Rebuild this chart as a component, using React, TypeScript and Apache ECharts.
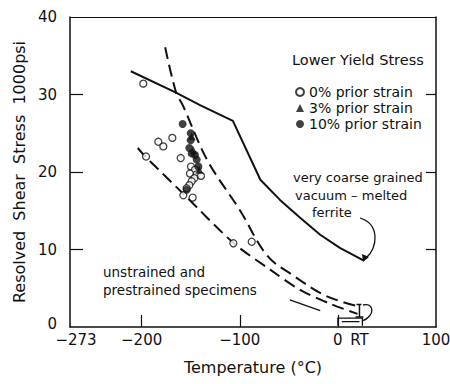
import React, { useEffect, useRef } from "react";
import * as echarts from "echarts";

// Temperature (°C), resolved shear stress (1000 psi)
const coarseFerrite: [number, number][] = [
  [-211, 33.0], [-166, 30.3], [-140, 28.6], [-107, 26.6], [-79, 19.0],
  [-59, 16.4], [-38.5, 14.1], [-18, 11.9], [2, 10.2], [26, 8.6],
];
const prestrainedCurve: [number, number][] = [
  [-176, 36.1], [-165, 30.3], [-158, 28.6], [-133, 21.5], [-100, 15.1],
  [-72, 9.2], [-45, 6.6], [-12, 4.0], [20, 2.7],
];
const unstrainedCurve: [number, number][] = [
  [-204, 23.1], [-195.5, 21.9], [-156, 17.0], [-106, 10.8], [-69, 7.4],
  [-38.5, 4.8], [-8, 3.0], [20, 1.7],
];
const leaderSegment: [number, number][] = [[-49, 3.5], [-18, 2.1]];
const strain0: [number, number][] = [
  [-198.3, 31.4], [-195.5, 22.0], [-183, 23.9], [-177.9, 23.3], [-168.7, 24.4],
  [-160.2, 21.8], [-149.7, 20.7], [-145.6, 20.3], [-150.7, 19.8], [-143.9, 19.7],
  [-139.5, 19.5], [-146.3, 19.2], [-149, 18.8], [-151.4, 18.3], [-154.1, 17.9],
  [-148, 16.7], [-157.5, 17.0], [-106.5, 10.8], [-87.8, 11.0],
];
const strain3: [number, number][] = [
  [-149, 24.6], [-147.3, 22.8], [-141.2, 20.3],
];
const strain10: [number, number][] = [
  [-158.2, 26.2], [-150, 25.0], [-150, 24.1], [-151.4, 23.1], [-145.6, 22.2],
  [-149, 22.4], [-143.9, 21.6], [-142.2, 20.7], [-154.1, 17.7],
];
// room-temperature scatter band: bracket and box
const rtBracket: [number, number][] = [
  [19, 2.9], [24, 2.9], [22, 2.9], [22, 1.3], [18, 1.3], [26, 1.3],
];
const rtBox: [number, number][] = [
  [0, 0.15], [0, 1.15], [25, 1.15], [25, 0.15],
];
const rtBoxInner: [number, number][] = [[4, 0.7], [22, 0.7]];

const xLabelValues = [-273, -200, -100, 0, 22, 100];
const xTickValues = [-200, -100, 0];
const yTickValues = [10, 20, 30];

const FONT = "DejaVu Sans";

export default function App() {
  const ref = useRef<HTMLDivElement>(null);
  useEffect(() => {
    const chart = echarts.init(ref.current!, null, { renderer: "svg" });
    const lineBase = {
      type: "line",
      showSymbol: false,
      symbol: "none",
      silent: true,
      xAxisIndex: 0,
      yAxisIndex: 0,
    };
    chart.setOption({
      animation: false,
      textStyle: { fontFamily: FONT, color: "#111" },
      grid: { left: 70, right: 14, top: 17, bottom: 57, outerBoundsMode: "none" },
      legend: {
        orient: "vertical",
        left: 290,
        top: 80,
        itemGap: 2,
        itemWidth: 8,
        itemHeight: 8,
        selectedMode: false,
        data: ["0% prior strain", "3% prior strain", "10% prior strain"],
        textStyle: { fontFamily: FONT, fontSize: 14, color: "#111" },
      },
      xAxis: [
        {
          type: "value",
          min: -273,
          max: 100,
          position: "bottom",
          splitLine: { show: false },
          axisLine: { onZero: false, lineStyle: { color: "#111", width: 1.5 } },
          axisTick: {
            inside: true,
            length: 12,
            customValues: xTickValues,
            lineStyle: { color: "#111", width: 1.2 },
          },
          axisLabel: {
            customValues: xLabelValues,
            fontSize: 15,
            margin: 5,
            color: "#111",
            fontFamily: FONT,
            formatter: (v: number) =>
              v === 22 ? "RT" : v === -273 ? "{s|−273}" : v < 0 ? "−" + Math.abs(v) : String(v),
            rich: { s: { fontSize: 15, fontFamily: FONT, padding: [0, 0, 0, 12] } },
          },
          name: "Temperature (°C)",
          nameLocation: "middle",
          nameGap: 32,
          nameTextStyle: { fontSize: 16, fontFamily: FONT, color: "#111" },
        },
        {
          type: "value",
          min: -273,
          max: 100,
          position: "top",
          splitLine: { show: false },
          axisLine: { onZero: false, lineStyle: { color: "#111", width: 1.2 } },
          axisTick: { show: false },
          axisLabel: { show: false },
        },
      ],
      yAxis: [
        {
          type: "value",
          min: 0,
          max: 40,
          interval: 10,
          position: "left",
          splitLine: { show: false },
          axisLine: { onZero: false, lineStyle: { color: "#111", width: 1.5 } },
          axisTick: {
            inside: true,
            length: 13,
            customValues: yTickValues,
            lineStyle: { color: "#111", width: 1.2 },
          },
          axisLabel: {
            fontSize: 15,
            margin: 13,
            color: "#111",
            fontFamily: FONT,
            formatter: (v: number) => (v === 0 ? "{z|0}" : String(v)),
            rich: { z: { fontSize: 15, fontFamily: FONT, padding: [0, 0, 7, 0] } },
          },
          name: "Resolved  Shear  Stress  1000psi",
          nameLocation: "middle",
          nameGap: 42,
          nameTextStyle: { fontSize: 16, fontFamily: FONT, color: "#111" },
        },
        {
          type: "value",
          min: 0,
          max: 40,
          interval: 10,
          position: "right",
          splitLine: { show: false },
          axisLine: { onZero: false, lineStyle: { color: "#111", width: 1.5 } },
          axisTick: {
            inside: true,
            length: 10,
            customValues: yTickValues,
            lineStyle: { color: "#111", width: 1.2 },
          },
          axisLabel: { show: false },
        },
      ],
      series: [
        {
          ...lineBase,
          name: "coarse",
          data: coarseFerrite,
          smooth: false,
          lineStyle: { color: "#111", width: 2 },
        },
        {
          ...lineBase,
          name: "prestrained",
          data: prestrainedCurve,
          smooth: 0.35,
          lineStyle: { color: "#111", width: 2, type: [12, 6] },
        },
        {
          ...lineBase,
          name: "unstrained",
          data: unstrainedCurve,
          smooth: 0.3,
          lineStyle: { color: "#111", width: 2, type: [12, 6] },
        },
        {
          ...lineBase,
          name: "leader",
          data: leaderSegment,
          lineStyle: { color: "#111", width: 1.3 },
        },
        {
          ...lineBase,
          name: "rtBracket",
          data: rtBracket,
          lineStyle: { color: "#111", width: 1.5 },
        },
        {
          ...lineBase,
          name: "rtBox",
          data: rtBox,
          lineStyle: { color: "#111", width: 1.3 },
        },
        {
          ...lineBase,
          name: "rtBoxInner",
          data: rtBoxInner,
          lineStyle: { color: "#111", width: 1.3 },
        },
        {
          type: "scatter",
          name: "0% prior strain",
          data: strain0,
          symbol: "circle",
          symbolSize: 7,
          itemStyle: { color: "#fff", borderColor: "#111", borderWidth: 1.3 },
          z: 3,
        },
        {
          type: "scatter",
          name: "3% prior strain",
          data: strain3,
          symbol: "triangle",
          symbolSize: 8,
          itemStyle: { color: "#111" },
          z: 4,
        },
        {
          type: "scatter",
          name: "10% prior strain",
          data: strain10,
          symbol: "circle",
          symbolSize: 8,
          itemStyle: { color: "#111" },
          z: 4,
        },
      ],
      graphic: [
        {
          type: "text",
          left: 292,
          top: 52,
          style: { text: "Lower Yield Stress", fontSize: 14.5, fontFamily: FONT, fill: "#111" },
        },
        {
          type: "text",
          left: 293,
          top: 171,
          style: { text: "very coarse grained", fontSize: 13, fontFamily: FONT, fill: "#111" },
        },
        {
          type: "text",
          left: 295,
          top: 189,
          style: { text: "vacuum – melted", fontSize: 13, fontFamily: FONT, fill: "#111" },
        },
        {
          type: "text",
          left: 312,
          top: 206,
          style: { text: "ferrite", fontSize: 13, fontFamily: FONT, fill: "#111" },
        },
        {
          type: "text",
          left: 103,
          top: 265,
          style: { text: "unstrained and", fontSize: 13.5, fontFamily: FONT, fill: "#111" },
        },
        {
          type: "text",
          left: 103,
          top: 283,
          style: { text: "prestrained specimens", fontSize: 13.5, fontFamily: FONT, fill: "#111" },
        },
        {
          type: "bezierCurve",
          shape: { x1: 360, y1: 218, x2: 366, y2: 258, cpx1: 380, cpy1: 224, cpx2: 378, cpy2: 248 },
          style: { stroke: "#111", lineWidth: 1.3, fill: "none" },
        },
        {
          type: "polygon",
          shape: { points: [[363, 262], [362, 254], [369, 257]] },
          style: { fill: "#111" },
        },
        {
          type: "bezierCurve",
          shape: { x1: 363, y1: 305, x2: 362, y2: 321, cpx1: 374, cpy1: 302, cpx2: 376, cpy2: 316 },
          style: { stroke: "#111", lineWidth: 1.3, fill: "none" },
        },
      ],
    });
    return () => chart.dispose();
  }, []);
  return (
    <div
      ref={ref}
      style={{ position: "absolute", left: 0, top: 0, width: 450, height: 384 }}
    />
  );
}
